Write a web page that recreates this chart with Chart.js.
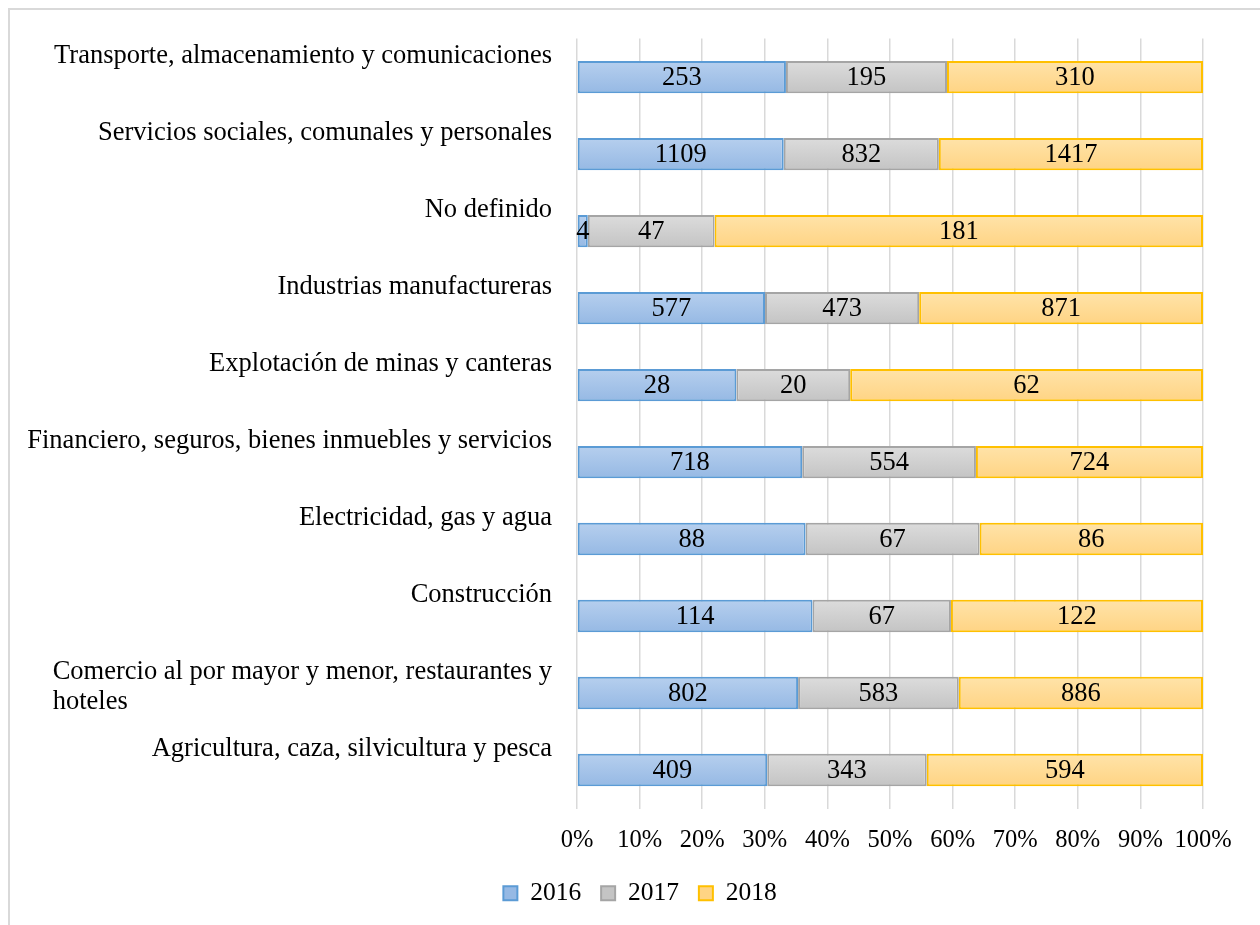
<!DOCTYPE html>
<html>
<head>
<meta charset="utf-8">
<script src="https://cdn.jsdelivr.net/npm/chart.js@4.4.0/dist/chart.umd.min.js"></script>
<style>
  html, body { margin: 0; padding: 0; background: #fff; overflow: hidden; }
  #wrap { position: relative; width: 1260px; height: 925px; }
  #frame { position: absolute; left: 8px; top: 8px; width: 1400px; height: 1100px; border: 2px solid #d9d9d9; box-sizing: border-box; pointer-events: none; }
  canvas { position: absolute; left: 0; top: 0; }
</style>
</head>
<body>
<div id="wrap">
  <canvas id="chart" width="1260" height="925"></canvas>
  <div id="frame"></div>
</div>
<script>
// categories, top to bottom
const sectors = [
    'Transporte, almacenamiento y comunicaciones',
    'Servicios sociales, comunales y personales',
    'No definido',
    'Industrias manufactureras',
    'Explotación de minas y canteras',
    'Financiero, seguros, bienes inmuebles y servicios',
    'Electricidad, gas y agua',
    'Construcción',
    ['Comercio al por mayor y menor, restaurantes y', 'hoteles'],
    'Agricultura, caza, silvicultura y pesca'
];

// counts per year
const values2016 = [253, 1109, 4, 577, 28, 718, 88, 114, 802, 409];
const values2017 = [195, 832, 47, 473, 20, 554, 67, 67, 583, 343];
const values2018 = [310, 1417, 181, 871, 62, 724, 86, 122, 886, 594];

const years = ['2016', '2017', '2018'];
const xTicks = [0, 10, 20, 30, 40, 50, 60, 70, 80, 90, 100];

const FONT = 'Liberation Serif, Times New Roman, serif';
const LABEL_SIZE = 26.5;

const totals = values2016.map((v, i) => v + values2017[i] + values2018[i]);
const toPct = arr => arr.map((v, i) => v / totals[i] * 100);

// vertical gradient for each bar, like the office fill
function gradient(top, bottom, solid) {
    return function(ctx) {
        if (ctx.type !== 'data') return solid;
        const chart = ctx.chart;
        const yScale = chart.scales.y;
        if (!chart.chartArea || !yScale) return solid;
        const c = yScale.getPixelForValue(ctx.dataIndex);
        const g = chart.ctx.createLinearGradient(0, c - 16, 0, c + 16);
        g.addColorStop(0, top);
        g.addColorStop(1, bottom);
        return g;
    };
}

const rawByDataset = [values2016, values2017, values2018];

// category labels sit at the top of each band, right edge near the axis
const categoryLabels = {
    id: 'categoryLabels',
    afterDraw(chart) {
        const yScale = chart.scales.y;
        const ctx = chart.ctx;
        const band = (yScale.bottom - yScale.top) / sectors.length;
        const right = chart.chartArea.left - 25;
        ctx.save();
        ctx.font = LABEL_SIZE + 'px ' + FONT;
        ctx.fillStyle = '#000';
        ctx.textBaseline = 'top';
        ctx.textAlign = 'left';
        sectors.forEach((label, i) => {
            const lines = Array.isArray(label) ? label : [label];
            const w = Math.max(...lines.map(l => ctx.measureText(l).width));
            const top = yScale.getPixelForValue(i) - band / 2 + 4;
            lines.forEach((l, j) => {
                ctx.fillText(l, right - w, top + j * 30);
            });
        });
        ctx.restore();
    }
};

// raw counts written in the middle of each segment
const valueLabels = {
    id: 'valueLabels',
    afterDatasetsDraw(chart) {
        const ctx = chart.ctx;
        ctx.save();
        ctx.font = LABEL_SIZE + 'px ' + FONT;
        ctx.fillStyle = '#000';
        ctx.textAlign = 'center';
        ctx.textBaseline = 'middle';
        chart.data.datasets.forEach((ds, d) => {
            const meta = chart.getDatasetMeta(d);
            meta.data.forEach((bar, i) => {
                const x = (bar.x + bar.base) / 2;
                ctx.fillText(String(rawByDataset[d][i]), x, bar.y + 1);
            });
        });
        ctx.restore();
    }
};

new Chart(document.getElementById('chart').getContext('2d'), {
    type: 'bar',
    data: {
        labels: sectors,
        datasets: [
            {
                label: years[0],
                data: toPct(values2016),
                backgroundColor: gradient('#b6cfee', '#96b9e4', '#a9c4e8'),
                borderColor: '#5b9bd5',
                borderWidth: 2,
                borderSkipped: false
            },
            {
                label: years[1],
                data: toPct(values2017),
                backgroundColor: gradient('#dcdcdc', '#c4c4c4', '#cfcfcf'),
                borderColor: '#a5a5a5',
                borderWidth: 2,
                borderSkipped: false
            },
            {
                label: years[2],
                data: toPct(values2018),
                backgroundColor: gradient('#ffe3a9', '#ffd484', '#ffd98f'),
                borderColor: '#ffc000',
                borderWidth: 2,
                borderSkipped: false
            }
        ]
    },
    options: {
        indexAxis: 'y',
        responsive: false,
        animation: false,
        events: [],
        layout: {
            padding: { left: 77, right: 57, top: 38.6, bottom: 9 }
        },
        datasets: {
            bar: {
                categoryPercentage: 1,
                barPercentage: 0.42
            }
        },
        scales: {
            x: {
                stacked: true,
                min: 0,
                max: 100,
                afterBuildTicks: scale => {
                    scale.ticks = xTicks.map(v => ({ value: v }));
                },
                afterFit: scale => { scale.height = 52; },
                ticks: {
                    callback: v => v + '%',
                    font: { family: FONT, size: 24.5 },
                    color: '#000',
                    padding: 17.5,
                    maxRotation: 0
                },
                grid: {
                    color: '#d9d9d9',
                    lineWidth: 1.5,
                    drawTicks: false
                },
                border: { display: false }
            },
            y: {
                stacked: true,
                afterFit: scale => { scale.width = 500; },
                ticks: { display: false },
                grid: { display: false },
                border: { display: false }
            }
        },
        plugins: {
            legend: {
                position: 'bottom',
                labels: {
                    font: { family: FONT, size: 25.5 },
                    color: '#000',
                    boxWidth: 14,
                    boxHeight: 14,
                    padding: 20
                }
            },
            tooltip: { enabled: false }
        }
    },
    plugins: [categoryLabels, valueLabels]
});
</script>
</body>
</html>
